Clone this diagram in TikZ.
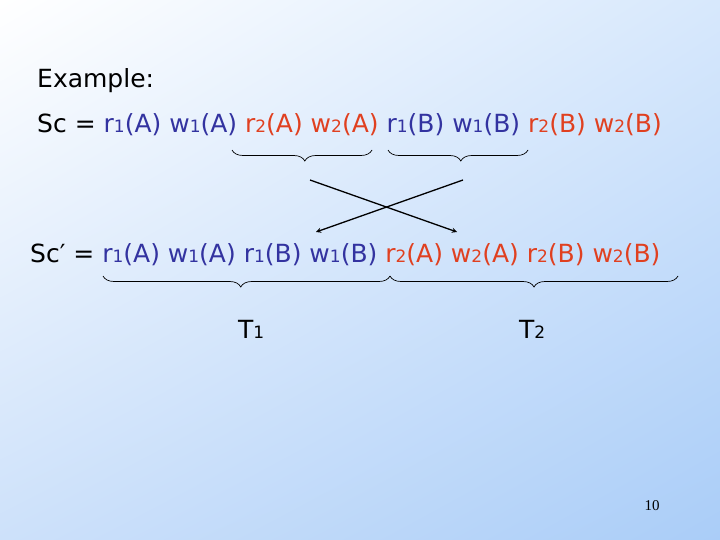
\documentclass[tikz,border=0pt]{standalone}
\usepackage{fontspec}
\setmainfont{DejaVu Sans}
\newfontfamily\serifnum{Liberation Serif}
\usetikzlibrary{decorations.pathreplacing,shadings}
\definecolor{bl}{HTML}{3333A0}
\definecolor{rd}{HTML}{E04020}
\definecolor{bgur}{HTML}{D7E8FC}
\definecolor{bgll}{HTML}{CDE1FA}
\definecolor{bglr}{HTML}{AACDF8}
\newcommand{\smd}[1]{{\fontsize{17}{17}\selectfont #1}}
\tikzset{x=1pt,y=-1pt,
 line/.style={anchor=base west,inner sep=0pt,font=\fontsize{25}{30}\selectfont},
 br/.style={decorate,decoration={brace,mirror,amplitude=11pt,aspect=#1},line width=0.7pt},
 arr/.style={-stealth,line width=1.3pt}}
\begin{document}
\begin{tikzpicture}
\shade[upper left=white,upper right=bgur,lower left=bgll,lower right=bglr] (0,0) rectangle (720,540);
\useasboundingbox (0,0) rectangle (720,540);
\node[line] (ex) at (37,88) {Example:};
\node[line] (sc) at (37,133) {Sc = \textcolor{bl}{r\smd1(A) w\smd1(A)} \textcolor{rd}{r\smd2(A) w\smd2(A)} \textcolor{bl}{r\smd1(B) w\smd1(B)} \textcolor{rd}{r\smd2(B) w\smd2(B)}};
\node[line] (scp) at (30,262) {Sc′ = \textcolor{bl}{r\smd1(A) w\smd1(A) r\smd1(B) w\smd1(B)} \textcolor{rd}{r\smd2(A) w\smd2(A) r\smd2(B) w\smd2(B)}};
\coordinate (a1) at (232,150); \coordinate (a2) at (372,150);
\coordinate (b1) at (388,150); \coordinate (b2) at (528,150);
\draw[br=0.52] (a1) -- (a2);
\draw[br=0.52] (b1) -- (b2);
\coordinate (s1) at (310,180); \coordinate (e1) at (457,232);
\coordinate (s2) at (463,180); \coordinate (e2) at (316,232);
\draw[arr] (s1) -- (e1);
\draw[arr] (s2) -- (e2);
\coordinate (c1) at (103,276); \coordinate (c2) at (390,276); \coordinate (c3) at (678,276);
\draw[br=0.48] (c1) -- (c2);
\draw[br=0.5] (c2) -- (c3);
\node[line] (t1) at (238,338) {T\smd1};
\node[line] (t2) at (519,338) {T\smd2};
\node[anchor=base,inner sep=0pt,font=\serifnum\fontsize{15}{15}\selectfont] (pg) at (652,510) {10};
\end{tikzpicture}
\end{document}
